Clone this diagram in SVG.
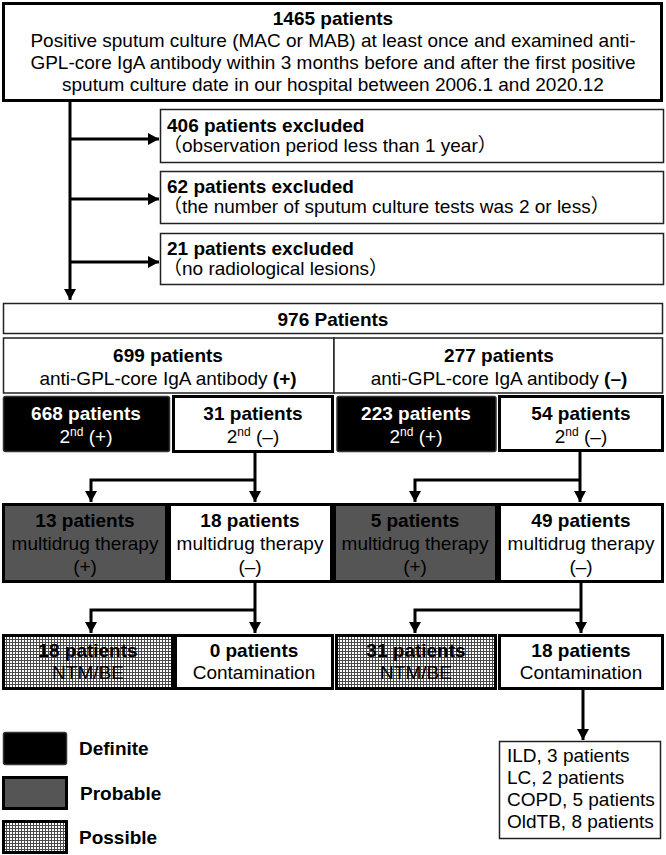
<svg xmlns="http://www.w3.org/2000/svg" width="666" height="855" viewBox="0 0 666 855">
<style>
text{font-family:"Liberation Sans",Arial,"Noto Sans CJK JP",sans-serif;font-size:19px;fill:#000}
.b{font-weight:bold}
.c{text-anchor:middle}
.w{fill:#fff}
.thin{fill:#fff;stroke:#222;stroke-width:1.5}
.thick{fill:#fff;stroke:#000;stroke-width:3}
.def{fill:#000;stroke:#333;stroke-width:1.5}
.prob{fill:#555;stroke:#000;stroke-width:3}
.poss{fill:url(#grid);stroke:#000;stroke-width:3}
.ln{fill:none;stroke:#000;stroke-width:3}
</style>
<defs>
<pattern id="grid" patternUnits="userSpaceOnUse" width="3" height="3">
<rect width="3" height="3" fill="#4a4a4a"/>
<rect x="1" y="1" width="2" height="2" fill="#fff"/>
</pattern>
<marker id="ah" markerUnits="userSpaceOnUse" markerWidth="12" markerHeight="12" refX="11" refY="6" orient="auto">
<path d="M0,0 L11,6 L0,12 z" fill="#000"/>
</marker>
</defs>

<g id="connectors">
<path class="ln" d="M70,102 V300" marker-end="url(#ah)"/>
<path class="ln" d="M70,139 H159" marker-end="url(#ah)"/>
<path class="ln" d="M70,199 H159" marker-end="url(#ah)"/>
<path class="ln" d="M70,262 H159" marker-end="url(#ah)"/>
<path class="ln" d="M255,452 V502" marker-end="url(#ah)"/>
<path class="ln" d="M255,480 H91 V502" marker-end="url(#ah)"/>
<path class="ln" d="M580,451 V502" marker-end="url(#ah)"/>
<path class="ln" d="M580,480 H415 V502" marker-end="url(#ah)"/>
<path class="ln" d="M255,582 V633" marker-end="url(#ah)"/>
<path class="ln" d="M255,610 H91 V633" marker-end="url(#ah)"/>
<path class="ln" d="M581,582 V633" marker-end="url(#ah)"/>
<path class="ln" d="M581,610 H415 V633" marker-end="url(#ah)"/>
<path class="ln" d="M583,689 V740" marker-end="url(#ah)"/>
</g>

<g id="n1465">
<rect class="thick" x="3.5" y="3.5" width="658" height="97"/>
<text class="b c" x="333" y="25">1465 patients</text>
<text class="c" x="333" y="47">Positive sputum culture (MAC or MAB) at least once and examined anti-</text>
<text class="c" x="333" y="69">GPL-core IgA antibody within 3 months before and after the first positive</text>
<text class="c" x="333" y="91">sputum culture date in our hospital between 2006.1 and 2020.12</text>
</g>

<g id="ex406">
<rect class="thin" x="160.5" y="109.5" width="503" height="53"/>
<text class="b" x="167" y="132">406 patients excluded</text>
<text x="163" y="152">（observation period less than 1 year）</text>
</g>
<g id="ex62">
<rect class="thin" x="160.5" y="171.5" width="503" height="52"/>
<text class="b" x="167" y="193">62 patients excluded</text>
<text x="163" y="213">（the number of sputum culture tests was 2 or less）</text>
</g>
<g id="ex21">
<rect class="thin" x="160.5" y="233.5" width="503" height="51"/>
<text class="b" x="167" y="255">21 patients excluded</text>
<text x="163" y="275">（no radiological lesions）</text>
</g>

<g id="n976">
<rect class="thin" x="3.5" y="303.5" width="659" height="30"/>
<text class="b c" x="333" y="326">976 Patients</text>
</g>

<g id="n699">
<rect class="thin" x="3.5" y="338" width="330.5" height="55"/>
<text class="b c" x="168" y="362">699 patients</text>
<text class="c" x="168" y="385">anti-GPL-core IgA antibody <tspan class="b">(+)</tspan></text>
</g>
<g id="n277">
<rect class="thin" x="334" y="338" width="328.5" height="55"/>
<text class="b c" x="499" y="362">277 patients</text>
<text class="c" x="499" y="385">anti-GPL-core IgA antibody <tspan class="b">(–)</tspan></text>
</g>

<g id="n668">
<rect class="def" x="3.5" y="396.5" width="166" height="55" rx="2"/>
<text class="b c w" x="86" y="420">668 patients</text>
<text class="c w" x="86" y="443">2<tspan font-size="12" dy="-7">nd</tspan><tspan dy="7"> (+)</tspan></text>
</g>
<g id="n31">
<rect class="thick" x="173.5" y="396.5" width="159" height="55"/>
<text class="b c" x="253" y="420">31 patients</text>
<text class="c" x="253" y="443">2<tspan font-size="12" dy="-7">nd</tspan><tspan dy="7"> (–)</tspan></text>
</g>
<g id="n223">
<rect class="def" x="337" y="396.5" width="159" height="55" rx="2"/>
<text class="b c w" x="416" y="420">223 patients</text>
<text class="c w" x="416" y="443">2<tspan font-size="12" dy="-7">nd</tspan><tspan dy="7"> (+)</tspan></text>
</g>
<g id="n54">
<rect class="thick" x="499.5" y="396.5" width="163" height="54"/>
<text class="b c" x="581" y="420">54 patients</text>
<text class="c" x="581" y="443">2<tspan font-size="12" dy="-7">nd</tspan><tspan dy="7"> (–)</tspan></text>
</g>

<g id="n13">
<rect class="prob" x="3.5" y="504.5" width="163" height="77"/>
<text class="b c" x="85" y="527">13 patients</text>
<text class="c" x="85" y="550">multidrug therapy</text>
<text class="c" x="85" y="573">(+)</text>
</g>
<g id="n18m">
<rect class="thick" x="169.5" y="504.5" width="162" height="77"/>
<text class="b c" x="250" y="527">18 patients</text>
<text class="c" x="250" y="550">multidrug therapy</text>
<text class="c" x="250" y="573">(–)</text>
</g>
<g id="n5">
<rect class="prob" x="334.5" y="504.5" width="162" height="77"/>
<text class="b c" x="415" y="527">5 patients</text>
<text class="c" x="415" y="550">multidrug therapy</text>
<text class="c" x="415" y="573">(+)</text>
</g>
<g id="n49">
<rect class="thick" x="499.5" y="504.5" width="163" height="77"/>
<text class="b c" x="581" y="527">49 patients</text>
<text class="c" x="581" y="550">multidrug therapy</text>
<text class="c" x="581" y="573">(–)</text>
</g>

<g id="n18ntm">
<rect class="poss" x="3.5" y="635.5" width="169" height="53"/>
<text class="b c" x="88" y="657">18 patients</text>
<text class="c" x="88" y="679">NTM/BE</text>
</g>
<g id="n0">
<rect class="thick" x="175.5" y="635.5" width="157" height="53"/>
<text class="b c" x="254" y="657">0 patients</text>
<text class="c" x="254" y="679">Contamination</text>
</g>
<g id="n31ntm">
<rect class="poss" x="336.5" y="635.5" width="159" height="53"/>
<text class="b c" x="416" y="657">31 patients</text>
<text class="c" x="416" y="679">NTM/BE</text>
</g>
<g id="n18c">
<rect class="thick" x="499.5" y="635.5" width="163" height="53"/>
<text class="b c" x="581" y="657">18 patients</text>
<text class="c" x="581" y="679">Contamination</text>
</g>

<g id="nlist">
<rect class="thin" x="499.5" y="741.5" width="161" height="97"/>
<text x="507" y="762">ILD, 3 patients</text>
<text x="507" y="784">LC, 2 patients</text>
<text x="507" y="806">COPD, 5 patients</text>
<text x="507" y="828">OldTB, 8 patients</text>
</g>

<g id="legend-definite">
<rect class="def" x="3.5" y="732.5" width="63" height="32" rx="2"/>
<text class="b" x="79" y="755">Definite</text>
</g>
<g id="legend-probable">
<rect class="prob" x="3.5" y="777.5" width="63" height="31"/>
<text class="b" x="80" y="800">Probable</text>
</g>
<g id="legend-possible">
<rect class="poss" x="3.5" y="821.5" width="63" height="31"/>
<text class="b" x="79" y="844">Possible</text>
</g>
</svg>
